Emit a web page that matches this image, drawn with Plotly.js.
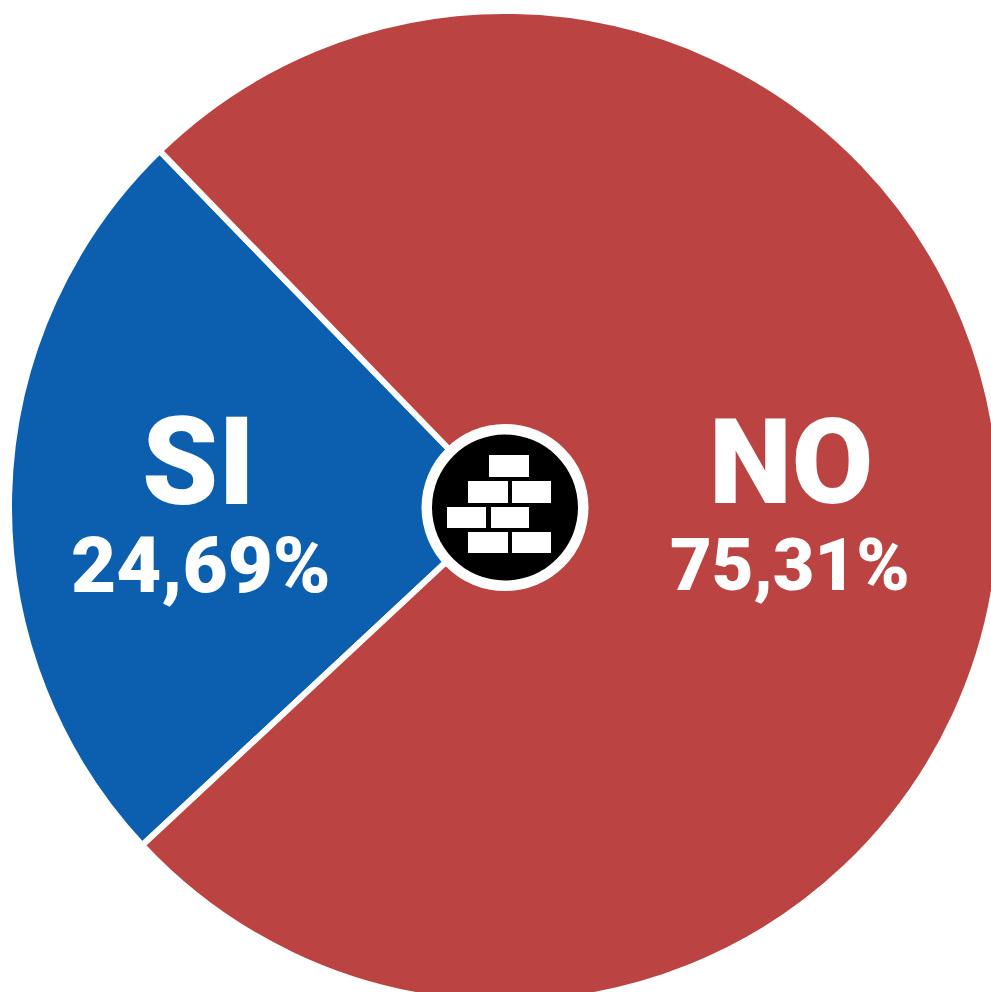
<!DOCTYPE html>
<html><head><meta charset="utf-8">
<script src="https://cdn.plot.ly/plotly-3.0.1.min.js"></script>
<style>html,body{margin:0;padding:0;background:#fff;width:991px;height:992px;overflow:hidden}</style></head>
<body><div id="c" style="width:1020px;height:1020px"></div>
<script>
const categories = ["SI", "NO"];
const values = [24.69, 75.31];
const valueLabels = ["24,69%", "75,31%"];
const colors = ["#0b5fae", "#bb4342"];
const bricks = [[489,455,40,22],[468,481,40,22],[512,481,39,22],[447,507,39,21],[491,507,38,21],[468,532,40,21],[512,532,39,21]];
const W = 1020, H = 1020;
const px = x => x / W, py = y => 1 - y / H;
const shapes = [
  {type:"circle",xref:"paper",yref:"paper",x0:px(421.5),x1:px(588.5),y0:py(591),y1:py(424),fillcolor:"#fff",line:{width:0}},
  {type:"circle",xref:"paper",yref:"paper",x0:px(432),x1:px(578),y0:py(580.5),y1:py(434.5),fillcolor:"#000",line:{width:0}}
];
bricks.forEach(b=>shapes.push({type:"rect",xref:"paper",yref:"paper",x0:px(b[0]),x1:px(b[0]+b[2]),y0:py(b[1]+b[3]),y1:py(b[1]),fillcolor:"#fff",line:{width:0}}));
const font = "Roboto, 'Open Sans', sans-serif";
const ann = (t,x,y,s)=>({text:t,xref:"paper",yref:"paper",x:px(x),y:py(y),xanchor:"center",yanchor:"middle",showarrow:false,font:{family:font,size:s,color:"#fff",weight:900}});
const annotations = [
  ann(categories[0],198,463,122), ann(valueLabels[0],201,565,78),
  ann(categories[1],791,463,118), ann(valueLabels[1],790,565,72)
];
Plotly.newPlot("c",[{type:"pie",labels:categories,values:values,sort:false,direction:"clockwise",rotation:-133,
  marker:{colors:colors,line:{color:"#fff",width:6}},textinfo:"none",hoverinfo:"label+value",
  domain:{x:[px(9),px(1001)],y:[py(1003),py(11)]}}],
  {width:W,height:H,margin:{l:0,r:0,t:0,b:0},paper_bgcolor:"#fff",showlegend:false,shapes:shapes,annotations:annotations},
  {displayModeBar:false});
</script></body></html>
